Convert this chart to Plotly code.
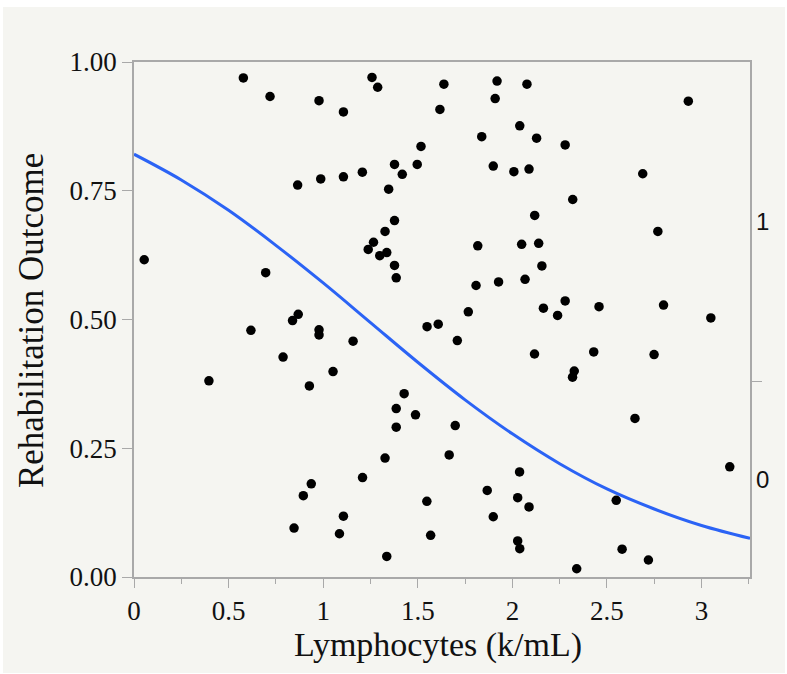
import plotly.graph_objects as go

# Lymphocytes (k/mL) and rehabilitation outcome (jittered) values
lymphocytes = [
    0.054, 0.578, 0.719, 0.978, 1.107, 1.258, 1.288, 0.865, 0.987, 1.107,
    1.207, 1.377, 1.346, 1.377, 1.327, 1.266, 1.238, 1.336, 1.299, 1.377,
    1.386, 0.696, 1.638, 1.617, 1.919, 1.909, 2.077, 2.039, 1.838, 2.128,
    1.517, 1.497, 1.418, 1.899, 2.008, 2.088, 2.118, 1.817, 2.049, 2.139,
    2.156, 1.808, 1.927, 2.067, 1.767, 2.164, 2.930, 2.279, 2.689, 2.319,
    2.769, 2.279, 2.239, 2.458, 2.799, 3.049, 0.618, 0.838, 0.868, 0.978,
    0.978, 1.158, 0.788, 1.052, 0.927, 0.396, 1.386, 1.386, 1.327, 1.208,
    0.937, 0.895, 1.107, 1.086, 0.846, 1.336, 1.549, 1.608, 1.709, 2.117,
    1.428, 1.488, 1.698, 1.666, 2.038, 1.867, 2.028, 2.088, 1.548, 1.899,
    1.568, 2.028, 2.039, 2.430, 2.749, 2.327, 2.318, 2.648, 3.149, 2.549,
    2.580, 2.719, 2.340,
]
outcome = [
    0.616, 0.969, 0.933, 0.925, 0.903, 0.970, 0.951, 0.761, 0.773, 0.777,
    0.786, 0.801, 0.753, 0.692, 0.671, 0.650, 0.636, 0.630, 0.624, 0.605,
    0.581, 0.591, 0.957, 0.908, 0.963, 0.929, 0.957, 0.876, 0.855, 0.852,
    0.836, 0.801, 0.782, 0.798, 0.787, 0.792, 0.702, 0.643, 0.646, 0.648,
    0.604, 0.566, 0.573, 0.578, 0.515, 0.522, 0.924, 0.839, 0.783, 0.733,
    0.671, 0.536, 0.508, 0.525, 0.528, 0.503, 0.479, 0.498, 0.510, 0.480,
    0.470, 0.458, 0.427, 0.399, 0.371, 0.381, 0.327, 0.291, 0.231, 0.193,
    0.181, 0.158, 0.118, 0.084, 0.095, 0.040, 0.486, 0.491, 0.459, 0.433,
    0.356, 0.315, 0.294, 0.237, 0.204, 0.168, 0.154, 0.136, 0.147, 0.117,
    0.081, 0.070, 0.055, 0.437, 0.432, 0.400, 0.388, 0.308, 0.214, 0.149,
    0.054, 0.033, 0.016,
]

# Fitted logistic curve
fit_x = [0.0, 0.25, 0.5, 0.75, 1.0, 1.25, 1.5, 1.75, 2.0, 2.25, 2.5, 2.75, 3.0, 3.256]
fit_y = [0.821, 0.771, 0.712, 0.644, 0.571, 0.494, 0.417, 0.344, 0.278, 0.220,
         0.171, 0.132, 0.100, 0.075]

y_ticks = [0, 0.25, 0.5, 0.75, 1.0]
y_ticktext = ["0.00", "0.25", "0.50", "0.75", "1.00"]
x_ticks = [0, 0.5, 1, 1.5, 2, 2.5, 3]
x_ticktext = ["0", "0.5", "1", "1.5", "2", "2.5", "3"]

# right axis: level split and level labels
level_split = [0.379]
level_labels = ["1", "0"]
level_label_pos = [0.69, 0.19]

x_title = "Lymphocytes (k/mL)"
y_title = "Rehabilitation Outcome"

SERIF = "Liberation Serif, Times New Roman, serif"
AXIS_GREY = "#a9a9a9"

fig = go.Figure()
fig.add_trace(go.Scatter(
    x=fit_x, y=fit_y, mode="lines",
    line=dict(color="#2b63f5", width=3, shape="spline"),
    hoverinfo="skip", showlegend=False,
))
fig.add_trace(go.Scatter(
    x=lymphocytes, y=outcome, mode="markers",
    marker=dict(color="black", size=9.5),
    showlegend=False,
))
# empty trace so that the right-hand level axis is drawn
fig.add_trace(go.Scatter(x=[], y=[], yaxis="y2", mode="markers",
                         showlegend=False, hoverinfo="skip"))

fig.update_layout(
    width=787, height=674,
    margin=dict(l=134, r=37, t=62, b=97),
    paper_bgcolor="white",
    plot_bgcolor="white",
    showlegend=False,
    xaxis=dict(
        range=[0, 3.256], tickvals=x_ticks, ticktext=x_ticktext,
        ticks="outside", ticklen=9, tickwidth=1.2, tickcolor=AXIS_GREY,
        showline=True, linecolor=AXIS_GREY, linewidth=1.5, mirror=True,
        showgrid=False, zeroline=False,
        tickfont=dict(family=SERIF, size=27, color="#111111"),
        minor=dict(tickmode="linear", tick0=0, dtick=0.25, ticks="outside",
                   ticklen=5, tickwidth=1.2, tickcolor=AXIS_GREY, showgrid=False),
    ),
    yaxis=dict(
        range=[0, 1], tickvals=y_ticks, ticktext=y_ticktext,
        ticks="outside", ticklen=10, tickwidth=1.2, tickcolor=AXIS_GREY,
        showline=True, linecolor=AXIS_GREY, linewidth=1.5, mirror=True,
        showgrid=False, zeroline=False,
        tickfont=dict(family=SERIF, size=27, color="#111111"),
    ),
    yaxis2=dict(
        overlaying="y", side="right", range=[0, 1],
        tickvals=level_split, ticktext=[""],
        ticks="outside", ticklen=11, tickwidth=1.2, tickcolor=AXIS_GREY,
        showline=False, showgrid=False, zeroline=False,
    ),
    shapes=[dict(
        type="rect", xref="paper", yref="paper", layer="below",
        x0=-0.2127, x1=1.0568, y0=-0.1864, y1=1.1068,
        fillcolor="#f5f5f1", line=dict(width=0),
    )],
)

annotations = []
for lab, pos in zip(level_labels, level_label_pos):
    annotations.append(dict(
        text=lab, xref="paper", yref="y", x=1.0195, y=pos,
        xanchor="center", yanchor="middle", showarrow=False,
        font=dict(family="Liberation Sans, Arial, sans-serif", size=24, color="#111111"),
    ))
annotations.append(dict(
    text=x_title, xref="paper", yref="paper", x=0.4935, y=-0.132,
    xanchor="center", yanchor="middle", showarrow=False,
    font=dict(family=SERIF, size=34, color="#111111"),
))
annotations.append(dict(
    text=y_title, xref="paper", yref="paper", x=-0.1672, y=0.497,
    xanchor="center", yanchor="middle", showarrow=False, textangle=-90,
    font=dict(family=SERIF, size=35, color="#111111"),
))
fig.update_layout(annotations=annotations)

fig.write_html("out.html")
